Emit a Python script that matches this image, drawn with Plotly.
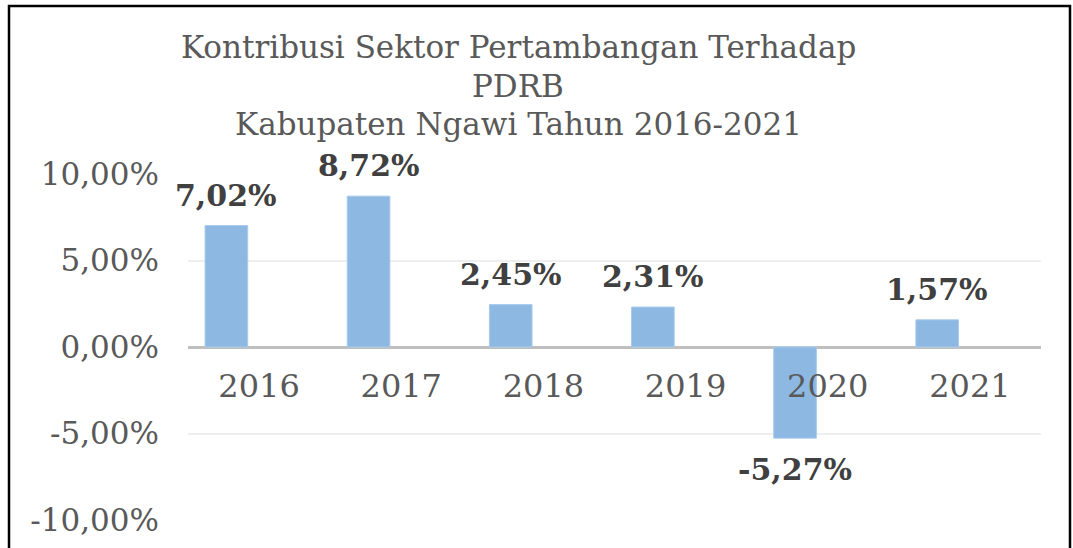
import plotly.graph_objects as go

# ---- data ----
years = ["2016", "2017", "2018", "2019", "2020", "2021"]
values = [7.02, 8.72, 2.45, 2.31, -5.27, 1.57]
value_labels = ["7,02%", "8,72%", "2,45%", "2,31%", "-5,27%", "1,57%"]
y_tickvals = [-10, -5, 0, 5, 10]
y_ticktext = ["-10,00%", "-5,00%", "0,00%", "5,00%", "10,00%"]
title_lines = ["Kontribusi Sektor Pertambangan Terhadap", "PDRB", "Kabupaten Ngawi Tahun 2016-2021"]

W, H = 1073, 548
# plot area in page pixel coordinates
PX0, PX1, PY0, PY1 = 188, 1041, 174, 520
L, R, T, B = PX0, W - PX1, PY0, H - PY1
pw, ph = PX1 - PX0, PY1 - PY0


def px_x(px):
    return (px - PX0) / pw


def px_y(py):
    return (PY1 - py) / ph


SERIF = "DejaVu Serif"
BAR_W = 0.30
BAR_OFF = -0.38

fig = go.Figure()
fig.add_trace(go.Bar(
    x=years, y=values,
    width=BAR_W, offset=BAR_OFF,
    marker=dict(color="#8DB8E2", line=dict(color="#A9CBEC", width=1)),
    hoverinfo="skip",
))

# data labels
for i, (v, t) in enumerate(zip(values, value_labels)):
    fig.add_annotation(
        x=i + BAR_OFF + BAR_W / 2, y=v, xref="x", yref="y",
        text="<b>" + t + "</b>", showarrow=False,
        yanchor="bottom" if v >= 0 else "top",
        yshift=11 if v >= 0 else -12,
        font=dict(family=SERIF, size=30, color="#404040"),
    )

# title (three lines)
title_y = [47, 86, 124]
for line, ty in zip(title_lines, title_y):
    fig.add_annotation(
        x=px_x(518), y=px_y(ty), xref="paper", yref="paper",
        text=line, showarrow=False, xanchor="center", yanchor="middle",
        font=dict(family=SERIF, size=31, color="#595959"),
    )

# outer frame
fig.add_shape(type="rect", xref="paper", yref="paper",
              x0=px_x(9), x1=px_x(1070), y0=px_y(580), y1=px_y(6),
              line=dict(color="black", width=2.5), fillcolor="rgba(0,0,0,0)", layer="above")

fig.update_layout(
    width=W, height=H,
    margin=dict(l=L, r=R, t=T, b=B, autoexpand=False),
    paper_bgcolor="white", plot_bgcolor="white",
    showlegend=False,
    xaxis=dict(
        type="category", anchor="free", position=0.5,
        showgrid=False, showline=False, zeroline=False,
        ticks="", ticklabelstandoff=17,
        tickfont=dict(family=SERIF, size=32, color="#595959"),
        range=[-0.5, 5.5],
    ),
    yaxis=dict(
        range=[-10, 10], tickvals=y_tickvals, ticktext=y_ticktext,
        showgrid=True, gridcolor="#EFEFEF", gridwidth=1.5,
        zeroline=True, zerolinecolor="#BFBFBF", zerolinewidth=2.5,
        showline=False, ticks="", ticklabelstandoff=28,
        tickfont=dict(family=SERIF, size=31, color="#595959"),
    ),
)

fig.write_html(
    "out.html",
    config={"displayModeBar": False},
    post_script="document.body.style.margin='0px';document.body.style.overflow='hidden';",
)
